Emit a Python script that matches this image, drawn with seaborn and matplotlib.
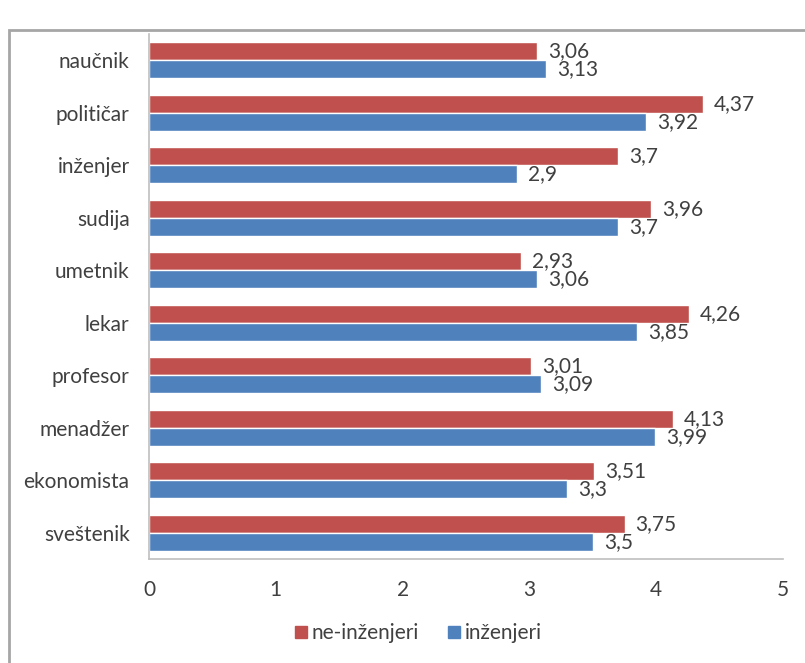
import pandas as pd
import matplotlib.pyplot as plt
import seaborn as sns
from matplotlib.patches import Rectangle

# chart data
professions = ['naučnik', 'političar', 'inženjer', 'sudija', 'umetnik',
               'lekar', 'profesor', 'menadžer', 'ekonomista', 'sveštenik']
ne_inzenjeri = [3.06, 4.37, 3.7, 3.96, 2.93, 4.26, 3.01, 4.13, 3.51, 3.75]
inzenjeri = [3.13, 3.92, 2.9, 3.7, 3.06, 3.85, 3.09, 3.99, 3.3, 3.5]
groups = ['ne-inženjeri', 'inženjeri']
colors = ['#C0504D', '#4F81BD']

df = pd.DataFrame({
    'profesija': professions * 2,
    'ocena': ne_inzenjeri + inzenjeri,
    'grupa': [groups[0]] * len(professions) + [groups[1]] * len(professions),
})

sns.set_style('white')
plt.rcParams['font.family'] = ['Lato', 'DejaVu Sans']
text_color = '#404040'
fs = 15

fig = plt.figure(figsize=(8.05, 6.63), dpi=100)
ax = fig.add_axes([149 / 805, 1 - 559 / 663, 634 / 805, 525 / 663])

sns.barplot(data=df, y='profesija', x='ocena', hue='grupa', hue_order=groups,
            palette=colors, orient='h', width=0.68, saturation=1,
            order=professions, ax=ax, legend=False)

# value labels with decimal comma
for cont in ax.containers:
    ax.bar_label(cont, labels=[f'{v:g}'.replace('.', ',') for v in cont.datavalues],
                 padding=8, fontsize=fs, color=text_color)

ax.set_xlim(0, 5)
ax.set_xticks(range(6))
ax.set_xlabel('')
ax.set_ylabel('')
ax.tick_params(axis='both', length=0, labelsize=fs, colors=text_color)
ax.tick_params(axis='x', pad=15)
ax.tick_params(axis='y', pad=14)
for side in ['top', 'right']:
    ax.spines[side].set_visible(False)
for side in ['left', 'bottom']:
    ax.spines[side].set_color('#BFBFBF')
    ax.spines[side].set_linewidth(1.2)

# legend below the plot
handles = [Rectangle((0, 0), 1, 1, color=c) for c in colors]
fig.legend(handles, groups, loc='center', bbox_to_anchor=(0.52, 0.045), ncol=2,
           frameon=False, handlelength=0.55, handleheight=0.55, handletextpad=0.25,
           columnspacing=1.4, fontsize=fs, labelcolor=text_color)

# outer chart frame (cut at right and bottom)
fig.patches.append(Rectangle((9 / 805, -0.1), 1.2, 1 - 30 / 663 + 0.1,
                             transform=fig.transFigure, fill=False,
                             edgecolor='#A6A6A6', linewidth=2))

fig.savefig('out.png', dpi=100)
